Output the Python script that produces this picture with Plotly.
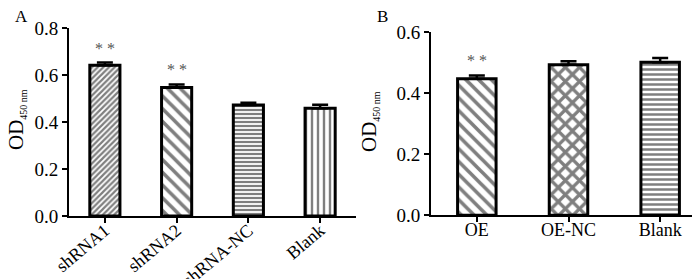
import plotly.graph_objects as go

cats_a = ["shRNA1", "shRNA2", "shRNA-NC", "Blank"]
vals_a = [0.641, 0.547, 0.472, 0.458]
err_a = [0.012, 0.013, 0.010, 0.015]
shapes_a = ["/", "\\", "-", "|"]
sizes_a = [4, 9, 4, 6]
solid_a = [0.55, 0.4, 0.55, 0.4]
sig_a = ["* *", "* *", "", ""]

cats_b = ["OE", "OE-NC", "Blank"]
vals_b = [0.447, 0.493, 0.501]
err_b = [0.011, 0.011, 0.014]
shapes_b = ["\\", "x", "-"]
sizes_b = [9, 10, 5]
solid_b = [0.4, 0.55, 0.5]
sig_b = ["* *", "", ""]

FONT = "Liberation Serif, Times New Roman, serif"
YTITLE = "OD<sub><span style='font-size:10px'>450 nm</span></sub>"

fig = go.Figure()

def add_bars(cats, vals, errs, shapes, sizes, solid, xa, ya):
    fig.add_trace(go.Bar(
        x=cats, y=vals, xaxis=xa, yaxis=ya, width=0.42,
        marker=dict(color="white", line=dict(color="black", width=3),
                    pattern=dict(shape=shapes, size=sizes, solidity=solid,
                                 fgcolor="black", bgcolor="white", fillmode="overlay")),
        error_y=dict(type="data", symmetric=False, array=errs,
                     arrayminus=[0] * len(errs), color="black", thickness=2.5, width=8),
        showlegend=False,
    ))

add_bars(cats_a, vals_a, err_a, shapes_a, sizes_a, solid_a, "x", "y")
add_bars(cats_b, vals_b, err_b, shapes_b, sizes_b, solid_b, "x2", "y2")

ann = []
for c, v, e, s in zip(cats_a, vals_a, err_a, sig_a):
    if s:
        ann.append(dict(x=c, y=v + e, xref="x", yref="y", text=s, showarrow=False,
                        yanchor="bottom", yshift=4, font=dict(family=FONT, size=16, color="#555")))
for c, v, e, s in zip(cats_b, vals_b, err_b, sig_b):
    if s:
        ann.append(dict(x=c, y=v + e, xref="x2", yref="y2", text=s, showarrow=False,
                        yanchor="bottom", yshift=4, font=dict(family=FONT, size=16, color="#555")))
ann.append(dict(x=13 / 700, y=1 - 9 / 279, xref="paper", yref="paper", text="A", showarrow=False,
                xanchor="center", yanchor="middle", font=dict(family=FONT, size=17, color="black")))
ann.append(dict(x=374 / 700, y=1 - 8 / 279, xref="paper", yref="paper", text="B", showarrow=False,
                xanchor="center", yanchor="middle", font=dict(family=FONT, size=17, color="black")))
# y-axis titles
ann.append(dict(x=8 / 700, y=1 - 112 / 279, xref="paper", yref="paper", text=YTITLE,
                showarrow=False, textangle=-90, xanchor="center", yanchor="middle",
                font=dict(family=FONT, size=21, color="black")))
ann.append(dict(x=361 / 700, y=1 - 114 / 279, xref="paper", yref="paper", text=YTITLE,
                showarrow=False, textangle=-90, xanchor="center", yanchor="middle",
                font=dict(family=FONT, size=21, color="black")))

axis_common = dict(showline=True, linecolor="black", linewidth=2, ticks="outside",
                   tickcolor="black", tickwidth=2, ticklen=5, showgrid=False, zeroline=False)
ytick = dict(family=FONT, size=19, color="black")
xtick = dict(family=FONT, size=18, color="black")

fig.update_layout(
    width=700, height=279,
    margin=dict(l=0, r=0, t=0, b=0, autoexpand=False),
    paper_bgcolor="white", plot_bgcolor="white",
    xaxis=dict(domain=[61 / 700, 348 / 700], anchor="y", range=[-0.5, 3.5], tickangle=-40,
               tickfont=xtick, ticklabelstandoff=-10, **axis_common),
    yaxis=dict(domain=[(279 - 208) / 279, (279 - 20) / 279], anchor="x", range=[0, 0.8],
               tickvals=[0, 0.2, 0.4, 0.6, 0.8], ticktext=["0.0", "0.2", "0.4", "0.6", "0.8"],
               tickfont=ytick, **axis_common),
    xaxis2=dict(domain=[423 / 700, 698 / 700], anchor="y2", range=[-0.5, 2.5], tickangle=0,
                tickfont=xtick, ticklabelstandoff=-8, **axis_common),
    yaxis2=dict(domain=[(279 - 207.3) / 279, (279 - 24) / 279], anchor="x2", range=[0, 0.6],
                tickvals=[0, 0.2, 0.4, 0.6], ticktext=["0.0", "0.2", "0.4", "0.6"],
                tickfont=ytick, **axis_common),
    annotations=ann,
    bargap=0.58,
)

fig.write_html("out.html")
